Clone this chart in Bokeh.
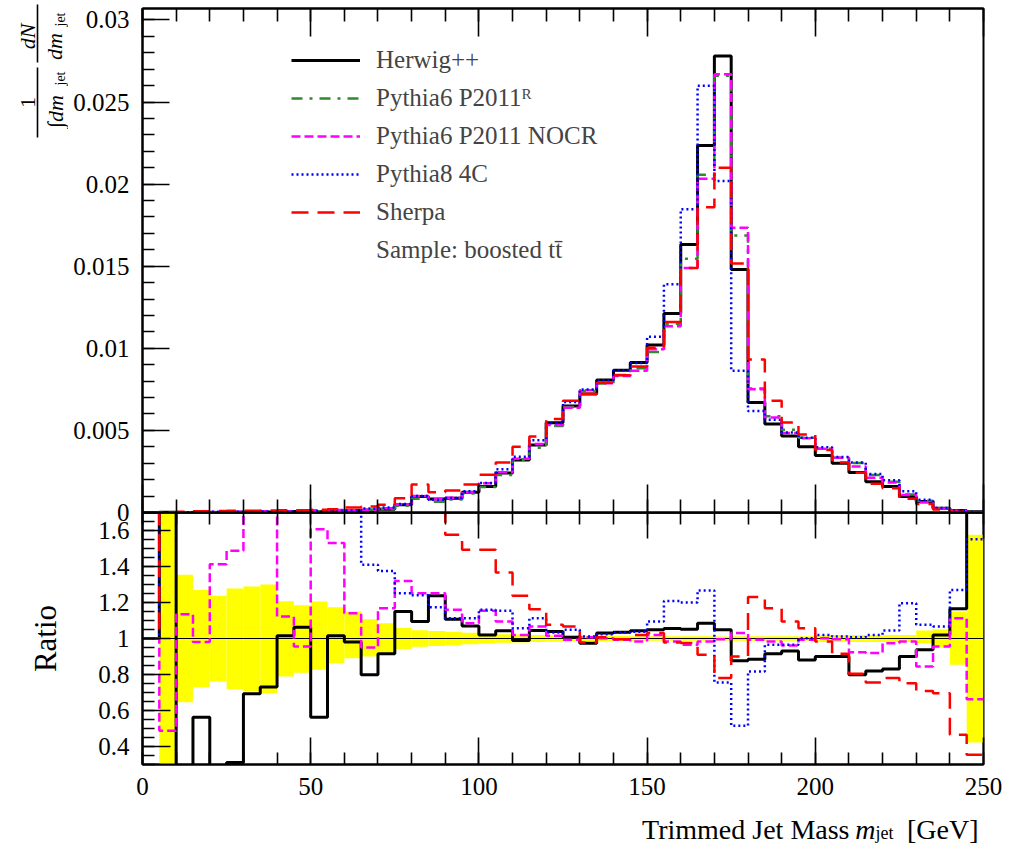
import math

from bokeh.embed import file_html
from bokeh.layouts import column, row
from bokeh.models import (CustomJSTickFormatter, FixedTicker, Label, Legend, LegendItem,
                          LinearAxis, Range1d)
from bokeh.plotting import figure
from bokeh.resources import INLINE

# 5 GeV bins of trimmed jet mass, 0 - 250 GeV
bin_edges = list(range(0, 255, 5))

# normalised distributions 1/N dN/dm_jet, one value per bin
herwig = [0.0, 0.00002, 0.0, 0.00001, 0.0, 0.00001, 0.00002, 0.00003, 0.00005, 0.00006,
          0.00005, 0.00010, 0.00012, 0.00014, 0.00020, 0.00047, 0.00097, 0.00082, 0.00087, 0.00124,
          0.00158, 0.00240, 0.00320, 0.00411, 0.00547, 0.00649, 0.00722, 0.00807, 0.00867, 0.00914,
          0.01020, 0.01212, 0.01632, 0.02236, 0.02780, 0.01480, 0.00670, 0.00539, 0.00466, 0.00401,
          0.00347, 0.00300, 0.00243, 0.00188, 0.00158, 0.00097, 0.00067, 0.00026, 0.00012, 0.00004]
pythia6_r = [0.0, 0.00001, 0.00001, 0.00002, 0.00002, 0.00003, 0.00003, 0.00004, 0.00005, 0.00006,
             0.00008, 0.00010, 0.00012, 0.00017, 0.00022, 0.00041, 0.00084, 0.00066, 0.00079, 0.00116,
             0.00155, 0.00228, 0.00322, 0.00395, 0.00527, 0.00642, 0.00740, 0.00786, 0.00838, 0.00878,
             0.00978, 0.01150, 0.01545, 0.02057, 0.02660, 0.01688, 0.00756, 0.00586, 0.00504, 0.00455,
             0.00388, 0.00334, 0.00302, 0.00229, 0.00188, 0.00109, 0.00072, 0.00026, 0.00010, 0.00002]
pythia6_nocr = [0.0, 0.00001, 0.00001, 0.00002, 0.00003, 0.00004, 0.00006, 0.00008, 0.00006, 0.00006,
                0.00013, 0.00015, 0.00014, 0.00016, 0.00026, 0.00050, 0.00100, 0.00081, 0.00090, 0.00124,
                0.00178, 0.00245, 0.00328, 0.00418, 0.00533, 0.00638, 0.00745, 0.00787, 0.00832, 0.00864,
                0.00995, 0.01135, 0.01490, 0.02033, 0.02670, 0.01735, 0.00750, 0.00578, 0.00484, 0.00452,
                0.00389, 0.00333, 0.00280, 0.00212, 0.00183, 0.00107, 0.00061, 0.00025, 0.00011, 0.00001]
pythia8_4c = [0.0, 0.00001, 0.00002, 0.00003, 0.00004, 0.00004, 0.00005, 0.00006, 0.00006, 0.00007,
              0.00008, 0.00010, 0.00012, 0.00025, 0.00030, 0.00052, 0.00101, 0.00077, 0.00088, 0.00129,
              0.00180, 0.00263, 0.00340, 0.00440, 0.00545, 0.00673, 0.00749, 0.00805, 0.00866, 0.00910,
              0.01070, 0.01390, 0.01847, 0.02600, 0.02020, 0.00863, 0.00618, 0.00565, 0.00487, 0.00455,
              0.00398, 0.00338, 0.00304, 0.00234, 0.00196, 0.00130, 0.00077, 0.00028, 0.00013, 0.00003]
sherpa = [0.0, 0.00002, 0.00005, 0.00008, 0.00009, 0.00010, 0.00011, 0.00012, 0.00013, 0.00014,
          0.00016, 0.00020, 0.00030, 0.00036, 0.00047, 0.00087, 0.00170, 0.00124, 0.00134, 0.00170,
          0.00230, 0.00305, 0.00400, 0.00463, 0.00570, 0.00680, 0.00723, 0.00790, 0.00836, 0.00890,
          0.01003, 0.01160, 0.01490, 0.01860, 0.02100, 0.01516, 0.00932, 0.00680, 0.00548, 0.00475,
          0.00380, 0.00305, 0.00242, 0.00175, 0.00147, 0.00083, 0.00052, 0.00019, 0.00005, 0.00001]

# ratios to Pythia6 P2011^R
ratio_herwig = [1.0, 1.9, 0.0, 0.563, 0.0, 0.311, 0.693, 0.73, 1.015, 1.063,
                0.563, 1.015, 0.98, 0.798, 0.915, 1.15, 1.094, 1.237, 1.107, 1.07,
                1.02, 1.043, 0.989, 1.044, 1.039, 1.007, 0.974, 1.03, 1.035, 1.043,
                1.048, 1.055, 1.052, 1.085, 1.048, 0.876, 0.885, 0.915, 0.93, 0.88,
                0.9, 0.9, 0.798, 0.82, 0.83, 0.9, 0.937, 1.02, 1.165, 1.9]
ratio_nocr = [1.0, 0.487, 1.135, 0.98, 1.413, 1.487, 1.85, 1.85, 1.122, 0.955,
              1.607, 1.53, 1.14, 0.95, 1.168, 1.32, 1.252, 1.252, 1.16, 1.085,
              1.154, 1.094, 1.02, 1.067, 1.015, 0.993, 1.007, 1.002, 0.993, 0.983,
              1.02, 0.983, 0.965, 0.983, 0.996, 1.03, 0.993, 0.983, 0.961, 0.993,
              1.002, 0.996, 0.924, 0.919, 0.974, 0.983, 0.844, 0.956, 1.113, 0.663]
ratio_pythia8 = [1.0, 1.9, 1.9, 1.9, 1.9, 1.9, 1.9, 1.9, 1.9, 1.9,
                 1.9, 1.9, 1.9, 1.41, 1.375, 1.252, 1.24, 1.174, 1.113, 1.113,
                 1.16, 1.154, 1.057, 1.113, 1.033, 1.048, 1.011, 1.024, 1.033, 1.037,
                 1.094, 1.209, 1.2, 1.267, 0.756, 0.515, 0.817, 0.965, 0.965, 1.002,
                 1.02, 1.011, 1.007, 1.02, 1.044, 1.196, 1.076, 1.067, 1.27, 1.552]
ratio_sherpa = [1.0, 1.9, 1.9, 1.9, 1.9, 1.9, 1.9, 1.9, 1.9, 1.9,
                1.9, 1.9, 1.9, 1.9, 1.9, 1.9, 1.9, 1.9, 1.576, 1.493,
                1.493, 1.367, 1.237, 1.163, 1.076, 1.067, 0.978, 1.007, 0.996, 1.02,
                1.03, 0.978, 0.975, 0.91, 0.78, 0.9, 1.23, 1.168, 1.094, 1.057,
                0.983, 0.915, 0.804, 0.756, 0.78, 0.752, 0.709, 0.696, 0.465, 0.354]

# statistical band of the reference sample
band_up = [1.0, 2.0, 1.354, 1.27, 1.237, 1.278, 1.289, 1.30, 1.207, 1.185,
           1.205, 1.174, 1.15, 1.107, 1.085, 1.058, 1.046, 1.042, 1.037, 1.032,
           1.028, 1.024, 1.022, 1.02, 1.018, 1.017, 1.016, 1.015, 1.014, 1.013,
           1.012, 1.012, 1.012, 1.012, 1.011, 1.012, 1.012, 1.012, 1.012, 1.012,
           1.02, 1.02, 1.02, 1.02, 1.02, 1.02, 1.045, 1.05, 1.15, 1.576]
band_down = [1.0, 0.0, 0.646, 0.73, 0.761, 0.718, 0.706, 0.696, 0.789, 0.81,
             0.826, 0.863, 0.89, 0.90, 0.915, 0.942, 0.954, 0.958, 0.963, 0.968,
             0.972, 0.976, 0.978, 0.98, 0.982, 0.983, 0.984, 0.985, 0.986, 0.987,
             0.988, 0.988, 0.988, 0.988, 0.989, 0.988, 0.988, 0.988, 0.988, 0.988,
             0.98, 0.98, 0.98, 0.98, 0.98, 0.98, 0.975, 0.95, 0.854, 0.422]

x_ticks = [0, 50, 100, 150, 200, 250]
x_minor_ticks = list(range(0, 251, 10))
top_ticks = [0, 0.005, 0.01, 0.015, 0.02, 0.025, 0.03]
top_minor_ticks = [round(0.001 * i, 3) for i in range(31)]
ratio_ticks = [0.4, 0.6, 0.8, 1.0, 1.2, 1.4, 1.6]
ratio_minor_ticks = [round(0.3 + 0.05 * i, 2) for i in range(29)]

SERIF = "Liberation Serif"
TICK_FONT = "25px"

TITLE_W = 68          # strip holding the rotated axis titles
MAIN_W = 1017 - TITLE_W
LEFT_B = 74           # room for tick labels (frame starts at x = 142)
RIGHT_B = 34
FRAME_X0, FRAME_X1 = TITLE_W + LEFT_B, 1017 - RIGHT_B
TOP_H = 524           # frame from y = 8 to y = 512, 12 px overlap strip below
OVERLAP = 12
RATIO_FRAME = 252
RATIO_B = 40
XTITLE_Y0 = TOP_H - OVERLAP + RATIO_FRAME + RATIO_B
XTITLE_H = 844 - XTITLE_Y0

styles = [
    ("Herwig++", "black", "solid", 3.0),
    ("Pythia6 P2011ᴿ", "#2e8b2e", "11 7 3 7", 2.5),
    ("Pythia6 P2011 NOCR", "#ff00ff", "9 4", 2.5),
    ("Pythia8 4C", "#0000ff", "2 3", 2.5),
    ("Sherpa", "#ff0000", "17 9", 2.5),
]
UP = math.pi / 2


def closed(vals):
    return list(vals) + [vals[-1]]


def style_axis(ax, major, minor, show_labels, ticker, formatter=None):
    ax.ticker = ticker
    ax.major_tick_in, ax.major_tick_out = major, 0
    ax.minor_tick_in, ax.minor_tick_out = minor, 0
    ax.axis_line_color = "black"
    ax.axis_line_width = 2
    ax.major_tick_line_color = "black"
    ax.minor_tick_line_color = "black"
    ax.major_tick_line_width = 1.6
    ax.minor_tick_line_width = 1.6
    if show_labels:
        if formatter is not None:
            ax.formatter = formatter
        ax.major_label_text_font = SERIF
        ax.major_label_text_font_size = TICK_FONT
        ax.major_label_text_color = "black"
        ax.major_label_standoff = 13
    else:
        ax.formatter = CustomJSTickFormatter(code="return '';")
        ax.major_label_text_font_size = "1px"
        ax.major_label_standoff = 0


def text_panel(width, height, x0, x1, y0, y1, left=0, right=0):
    """Axis-less figure whose data coordinates are page pixels (y grows downward)."""
    f = figure(width=width, height=height, x_range=Range1d(x0, x1), y_range=Range1d(y1, y0),
               output_backend="svg", toolbar_location=None, x_axis_location=None,
               y_axis_location=None, min_border=0, min_border_left=left,
               min_border_right=right, min_border_top=0, min_border_bottom=0)
    f.grid.visible = False
    f.outline_line_color = None
    f.background_fill_color = "white"
    f.border_fill_color = "white"
    return f


def put_text(f, x, y, text, size, style="normal", angle=0.0, align="center", baseline="middle"):
    f.add_layout(Label(x=x, y=y, text=text, angle=angle, text_align=align,
                       text_baseline=baseline, text_font=SERIF, text_font_size=f"{size}px",
                       text_font_style=style, text_color="black"))


# ---------------- upper panel: distributions ----------------
top = figure(width=MAIN_W, height=TOP_H, x_range=Range1d(0, 250), y_range=Range1d(0, 0.0307),
             output_backend="svg", toolbar_location=None, x_axis_location=None,
             y_axis_location=None, min_border_left=LEFT_B, min_border_right=RIGHT_B,
             min_border_top=8, min_border_bottom=OVERLAP,
             styles={"position": "relative", "z-index": "2"})
top.grid.visible = False
top.outline_line_color = "black"
top.outline_line_width = 2
top.background_fill_color = "white"
top.border_fill_color = None

yl = LinearAxis()
style_axis(yl, 27, 12, True, FixedTicker(ticks=top_ticks, minor_ticks=top_minor_ticks),
           CustomJSTickFormatter(code="return String(Math.round(tick*1000)/1000);"))
top.add_layout(yl, "left")
for side in ("above", "below"):
    ax = LinearAxis()
    style_axis(ax, 28, 13, False, FixedTicker(ticks=x_ticks, minor_ticks=x_minor_ticks))
    top.add_layout(ax, side)

items = []
for (name, color, dash, width), vals in zip(styles, [herwig, pythia6_r, pythia6_nocr,
                                                    pythia8_4c, sherpa]):
    r = top.step(x=bin_edges, y=closed(vals), mode="after", line_color=color,
                 line_dash=dash, line_width=width)
    items.append(LegendItem(label=name, renderers=[r]))
sample_r = top.line(x=[], y=[], line_alpha=0)
items.append(LegendItem(label="Sample: boosted tt̄", renderers=[sample_r]))

legend = Legend(items=items, location=(149, 247), glyph_width=69, glyph_height=30,
                label_height=30, spacing=8, label_standoff=16, padding=0, margin=0,
                border_line_color=None, background_fill_alpha=0,
                label_text_font=SERIF, label_text_font_size="25px")
top.add_layout(legend)

# ---------------- lower panel: ratios ----------------
ratio = figure(width=MAIN_W, height=RATIO_FRAME + RATIO_B, x_range=top.x_range,
               y_range=Range1d(0.3, 1.7), output_backend="svg", toolbar_location=None,
               x_axis_location=None, y_axis_location=None, min_border_left=LEFT_B,
               min_border_right=RIGHT_B, min_border_top=0, min_border_bottom=RATIO_B,
               margin=(-OVERLAP, 0, 0, 0), styles={"position": "relative", "z-index": "1"})
ratio.grid.visible = False
ratio.outline_line_color = "black"
ratio.outline_line_width = 2
ratio.background_fill_color = "white"
ratio.border_fill_color = None

ryl = LinearAxis()
style_axis(ryl, 28, 12, True, FixedTicker(ticks=ratio_ticks, minor_ticks=ratio_minor_ticks),
           CustomJSTickFormatter(code="return String(Math.round(tick*10)/10);"))
ratio.add_layout(ryl, "left")
rxa = LinearAxis()
style_axis(rxa, 26, 12, False, FixedTicker(ticks=x_ticks, minor_ticks=x_minor_ticks))
ratio.add_layout(rxa, "above")
rxb = LinearAxis()
style_axis(rxb, 27, 12, True, FixedTicker(ticks=x_ticks, minor_ticks=x_minor_ticks))
ratio.add_layout(rxb, "below")

ratio.quad(left=bin_edges[:-1], right=bin_edges[1:], bottom=band_down, top=band_up,
           fill_color="#ffff00", line_color=None)
ratio.hspan(y=[1.0], line_color="black", line_width=1.2)

ratio_series = [ratio_herwig, ratio_nocr, ratio_pythia8, ratio_sherpa]
for (name, color, dash, width), vals in zip([styles[0], styles[2], styles[3], styles[4]],
                                            ratio_series):
    ratio.step(x=bin_edges, y=closed(vals), mode="after", line_color=color,
               line_dash=dash, line_width=width)

# ---------------- axis titles ----------------
# y title of the upper panel: 1/(∫dm_jet) dN/dm_jet, read bottom to top
ytitle = text_panel(TITLE_W, TOP_H, 0, TITLE_W, 0, TOP_H)
put_text(ytitle, 27, 102, "1", 22, angle=UP)
put_text(ytitle, 55, 111, "∫dm", 22, style="italic", angle=UP)
put_text(ytitle, 60, 78, "jet", 14, angle=UP)
put_text(ytitle, 27, 36, "dN", 22, style="italic", angle=UP)
put_text(ytitle, 54, 46, "dm", 22, style="italic", angle=UP)
put_text(ytitle, 60, 19, "jet", 14, angle=UP)
ytitle.segment(x0=[37, 37], y0=[67, 4], x1=[37, 37], y1=[137, 62], line_color="black",
               line_width=1.6)

rtitle = text_panel(TITLE_W, 844 - TOP_H, 0, TITLE_W, TOP_H, 844)
put_text(rtitle, 45, 638, "Ratio", 31, angle=UP)

xtitle = text_panel(MAIN_W, XTITLE_H, FRAME_X0, FRAME_X1, XTITLE_Y0, 844,
                    left=LEFT_B, right=RIGHT_B)
put_text(xtitle, 978, 829, "[GeV]", 28, align="right", baseline="alphabetic")
put_text(xtitle, 893, 832, "jet", 18, align="right", baseline="alphabetic")
put_text(xtitle, 875, 829, "m", 28, style="italic", align="right", baseline="alphabetic")
put_text(xtitle, 849, 829, "Trimmed Jet Mass", 28, align="right", baseline="alphabetic")

layout = row(column(ytitle, rtitle, spacing=0),
             column(top, ratio, xtitle, spacing=0), spacing=0)
open("out.html", "w").write(file_html(layout, INLINE))
